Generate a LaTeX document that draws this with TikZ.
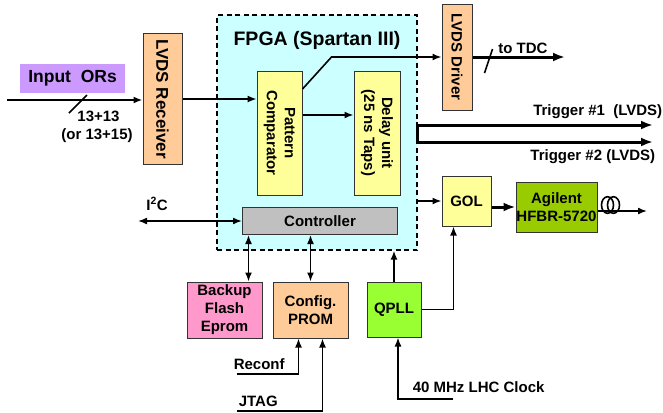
\documentclass[tikz,border=0pt]{standalone}
\usepackage{fontspec}
\setmainfont{Liberation Sans}
\usetikzlibrary{arrows.meta}
\definecolor{fpgabg}{HTML}{CCFFFF}
\definecolor{yel}{HTML}{FFFF99}
\definecolor{org}{HTML}{FFCC99}
\definecolor{lil}{HTML}{CC99FF}
\definecolor{pnk}{HTML}{FF99CC}
\definecolor{lim}{HTML}{99FF33}
\definecolor{olv}{HTML}{99CC00}
\definecolor{gry}{HTML}{C0C0C0}
\begin{document}
\begin{tikzpicture}[x=1bp,y=-1bp,line width=1.6bp,>={Latex[length=9bp,width=7bp]},
  every node/.style={font=\fontsize{15bp}{18bp}\selectfont\bfseries,inner sep=0pt},
  blk/.style={draw=black!80,line width=1bp,align=center},
  vblk/.style={blk,rotate=-90},
  fat/.style={line width=3bp,>={Latex[length=12bp,width=9bp]}}]
\useasboundingbox (0,0) rectangle (663,412);
\node[fill=lil,minimum width=105bp,minimum height=29bp,font=\fontsize{17.5bp}{20bp}\selectfont\bfseries] (inors) at (72.5,78.5) {Input\ \ ORs};
\node[vblk,fill=org,minimum width=131bp,minimum height=39bp,font=\fontsize{17bp}{20bp}\selectfont\bfseries] (rx) at (162.5,99) {LVDS Receiver};
\node[draw,dash pattern=on 5bp off 3.5bp,line width=1.3bp,fill=fpgabg,minimum width=200bp,minimum height=235bp] (fpga) at (317,132.5) {};
\node[anchor=base,font=\fontsize{19.5bp}{20bp}\selectfont\bfseries] (title) at (317,45) {FPGA (Spartan III)};
\node[vblk,fill=yel,minimum width=124bp,minimum height=45bp] (pc) at (279.5,133) {Pattern\\Comparator};
\node[vblk,fill=yel,minimum width=124bp,minimum height=46bp] (dly) at (377,133) {Delay unit\\(25 ns Taps)};
\node[blk,fill=gry,minimum width=155bp,minimum height=27bp] (ctrl) at (320,221) {Controller};
\node[vblk,fill=org,minimum width=106bp,minimum height=30bp] (drv) at (457,57) {LVDS Driver};
\node[blk,fill=yel,minimum width=49bp,minimum height=50bp] (gol) at (466.5,201) {GOL};
\node[blk,fill=olv,minimum width=81bp,minimum height=50bp] (agl) at (556.5,207) {Agilent\\HFBR-5720};
\node[blk,fill=lim,minimum width=54bp,minimum height=55bp] (qpll) at (394,309.5) {QPLL};
\node[blk,fill=pnk,minimum width=75bp,minimum height=56bp] (flash) at (224.5,310) {Backup\\Flash\\Eprom};
\node[blk,fill=org,minimum width=75bp,minimum height=56bp] (prom) at (310.5,310) {Config.\\PROM};
\coordinate (in) at (7,100); \coordinate (pcr) at ([yshift=18bp]pc.north); \coordinate (tdc) at (565,57);
\coordinate (t1) at (653,125); \coordinate (t2) at (653,142); \coordinate (fib) at (647,211);
\coordinate (i2c) at (138,221); \coordinate (fl) at ([xshift=24bp]flash.north);
\coordinate (clk) at (453,399); \coordinate (rcf) at (237,374); \coordinate (jtg) at (237,411);
\draw[->,line width=2bp] (in) -- (in -| rx.south);
\draw ([shift={(62,13)}]in) -- ++(18,-18);
\draw[->,line width=1.3bp] (rx.north) -- (rx.north -| pc.south);
\draw[->] (pcr) -- (pcr -| dly.south);
\draw[->] ([yshift=44bp]pc.north) -- ++(29,-32) -- (drv.south);
\draw[->,fat] (drv.north) -- (tdc);
\draw ([shift={(12,16)}]drv.north) -- ++(8,-24);
\draw[<->,fat] (t1) -- (t1 -| fpga.east) -- (t2 -| fpga.east) -- (t2);
\draw[->] (gol.west -| fpga.east) -- (gol.west);
\draw[->,fat] (agl.west -| gol.east) -- (agl.west);
\draw[->] (fib -| agl.east) -- (fib);
\draw ([shift={(10,-2)}]agl.east) ellipse [x radius=6,y radius=8.3] ([shift={(16,-2)}]agl.east) ellipse [x radius=6,y radius=8.3];
\draw[->] (qpll.north) -- (qpll.north |- fpga.south);
\draw[->] (qpll.east) -| ([xshift=-13bp]gol.south);
\draw[->] (clk) -| ([xshift=4bp]qpll.south);
\draw[<->] (i2c) -- (ctrl.west);
\draw[<->] (fl) -- (fl |- ctrl.south);
\draw[<->] (prom.north) -- (prom.north |- ctrl.south);
\draw[->] (rcf) -| ([xshift=-12bp]prom.south);
\draw[->] (jtg) -| ([xshift=12bp]prom.south);
\node[anchor=base] (n13) at (98.5,121) {13+13}; \node[anchor=base] (n15) at (97,139) {(or 13+15)};
\node[anchor=base] (totdc) at (523,53) {to TDC};
\node[anchor=base east] (trg1) at (663,115) {Trigger \#1\ \ (LVDS)}; \node[anchor=base east] (trg2) at (656,160) {Trigger \#2 (LVDS)};
\node[anchor=base] (i2clbl) at (157,210) {I\textsuperscript{2}C};
\node[anchor=base west] (rcflbl) at (233,369) {Reconf}; \node[anchor=base west] (jtglbl) at (238,406) {JTAG};
\node[anchor=base west] (clklbl) at (412,392) {40 MHz LHC Clock};
\end{tikzpicture}
\end{document}
